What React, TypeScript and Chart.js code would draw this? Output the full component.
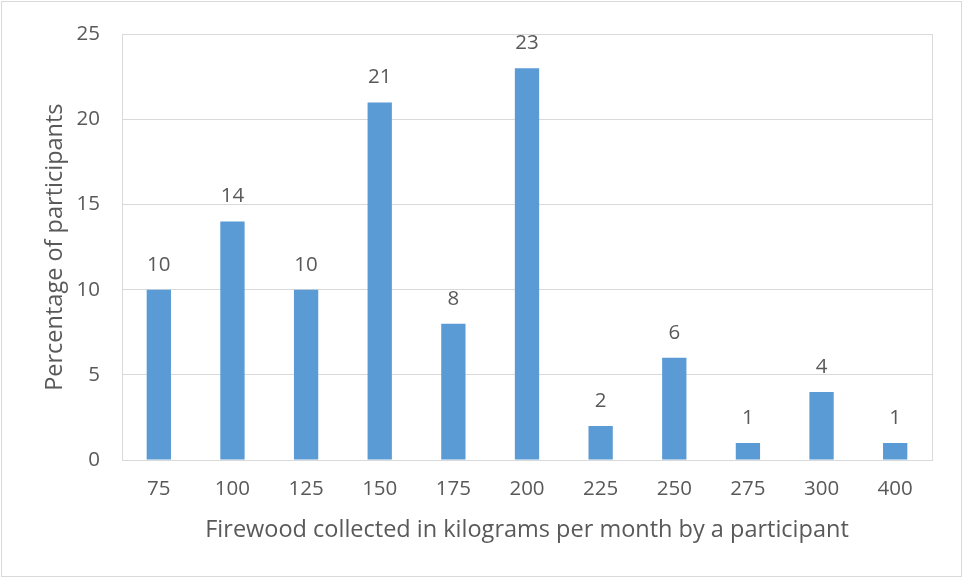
import React, { useEffect, useRef } from "react";
import { Chart, registerables } from "chart.js";

Chart.register(...registerables);

const categories = ["75", "100", "125", "150", "175", "200", "225", "250", "275", "300", "400"];
const percentages = [10, 14, 10, 21, 8, 23, 2, 6, 1, 4, 1];
const yTicks = [0, 5, 10, 15, 20, 25];

const FONT = "'Open Sans', sans-serif";
const TEXT = "#595959";
const GRID = "#D9D9D9";
const BAR = "#5B9BD5";

const W = 963;
const H = 578;
const TICK_SIZE = 20.5;
const TITLE_SIZE = 23.5;

export default function App() {
  const ref = useRef<HTMLCanvasElement | null>(null);

  useEffect(() => {
    if (!ref.current) return;
    const frame = {
      id: "frame",
      afterDraw(chart: any) {
        const ctx = chart.ctx;
        const a = chart.chartArea;
        ctx.save();
        ctx.strokeStyle = GRID;
        ctx.lineWidth = 1;
        ctx.strokeRect(Math.round(a.left) + 0.5, Math.round(a.top) + 0.5, Math.round(a.right - a.left), Math.round(a.bottom - a.top));
        ctx.strokeRect(1.5, 1.5, W - 3, H - 3);
        ctx.restore();
      },
    };
    const labels = {
      id: "valueLabels",
      afterDatasetsDraw(chart: any) {
        const ctx = chart.ctx;
        const meta = chart.getDatasetMeta(0);
        ctx.save();
        ctx.fillStyle = TEXT;
        ctx.font = `${TICK_SIZE}px ${FONT}`;
        ctx.textAlign = "center";
        ctx.textBaseline = "middle";
        meta.data.forEach((el: any, i: number) => {
          ctx.fillText(String(percentages[i]), el.x, el.y - 25);
        });
        ctx.restore();
      },
    };
    const chart = new Chart(ref.current, {
      type: "bar",
      data: {
        labels: categories,
        datasets: [
          {
            data: percentages,
            backgroundColor: BAR,
            borderWidth: 0,
            barPercentage: 0.33,
            categoryPercentage: 1,
          },
        ],
      },
      options: {
        responsive: false,
        animation: false,
        events: [],
        layout: { padding: { left: 41, top: 31, right: 31, bottom: 34 } },
        plugins: { legend: { display: false }, tooltip: { enabled: false } },
        scales: {
          x: {
            grid: { display: false, drawTicks: false, tickLength: 0 },
            border: { display: false },
            ticks: { color: TEXT, font: { family: FONT, size: TICK_SIZE }, padding: 17, maxRotation: 0 },
            title: {
              display: true,
              text: "Firewood collected in kilograms per month by a participant",
              color: TEXT,
              font: { family: FONT, size: TITLE_SIZE },
              padding: 0,
            },
            afterFit(scale: any) {
              scale.height = H - 460 - 34;
            },
          },
          y: {
            min: 0,
            max: 25,
            afterBuildTicks(scale: any) {
              scale.ticks = yTicks.map((v) => ({ value: v }));
            },
            grid: { color: GRID, drawTicks: false, tickLength: 0 },
            border: { display: false },
            ticks: { color: TEXT, font: { family: FONT, size: TICK_SIZE }, padding: 22 },
            title: {
              display: true,
              text: "Percentage of participants",
              color: TEXT,
              font: { family: FONT, size: TITLE_SIZE },
              padding: 0,
            },
            afterFit(scale: any) {
              scale.width = 122 - 41;
            },
          },
        },
      },
      plugins: [frame, labels],
    } as any);
    return () => chart.destroy();
  }, []);

  return (
    <div style={{ position: "fixed", left: 0, top: 0, width: W, height: H, background: "#fff" }}>
      <canvas ref={ref} width={W} height={H} style={{ display: "block" }} />
    </div>
  );
}
